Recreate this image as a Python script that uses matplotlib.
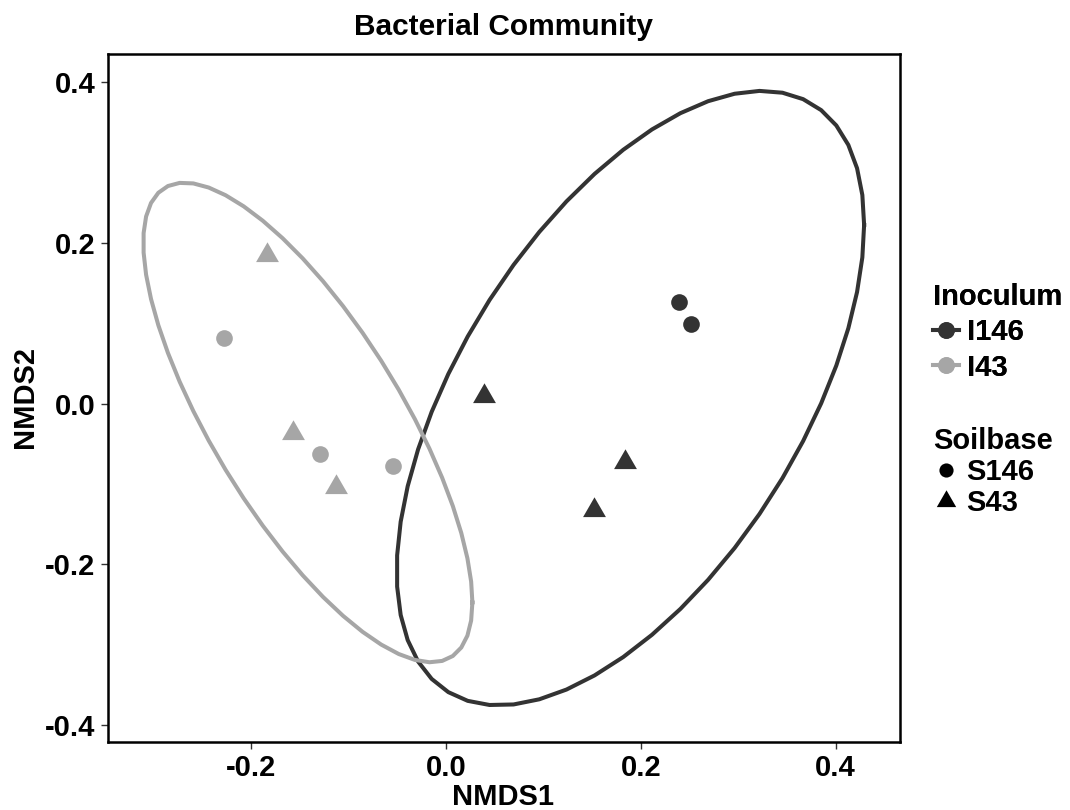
import numpy as np
import matplotlib
matplotlib.use('Agg')
import matplotlib.pyplot as plt
from matplotlib.lines import Line2D

plt.rcParams['font.family'] = ['Liberation Sans', 'DejaVu Sans']
plt.rcParams['font.weight'] = 'bold'

# NMDS scores
inoculum = ['I43', 'I43', 'I43', 'I43', 'I43', 'I43',
            'I146', 'I146', 'I146', 'I146', 'I146']
soilbase = ['S43', 'S146', 'S43', 'S146', 'S43', 'S146',
            'S146', 'S146', 'S43', 'S43', 'S43']
nmds1 = [-0.184, -0.228, -0.157, -0.129, -0.113, -0.054,
         0.239, 0.251, 0.039, 0.184, 0.152]
nmds2 = [0.185, 0.082, -0.037, -0.063, -0.104, -0.078,
         0.126, 0.099, 0.009, -0.073, -0.132]

groups = ['I146', 'I43']
colors = {'I146': '#333333', 'I43': '#a6a6a6'}
shapes = ['S146', 'S43']

# equilateral triangle, like R's pch 17
tri = [(-1, -0.5774), (1, -0.5774), (0, 1.1547), (-1, -0.5774)]
markers = {'S146': 'o', 'S43': tri}
msizes = {'S146': 12, 'S43': 19}


def cov_trob(x, nu=5, maxit=25, tol=0.01):
    ''' port of MASS::cov.trob, what stat_ellipse uses '''
    n, p = x.shape
    loc = x.mean(axis=0)
    w = np.ones(n)
    for it in range(maxit):
        w0 = w
        X = x - loc
        u, d, vt = np.linalg.svd(np.sqrt(w / w.sum())[:, None] * X, full_matrices=False)
        wX = X @ vt.T @ np.diag(1 / d)
        Q = (wX ** 2).sum(axis=1)
        w = (nu + p) / (nu + Q)
        loc = (w[:, None] * x).sum(axis=0) / w.sum()
        if np.all(np.abs(w - w0) < tol):
            break
    cov = (np.sqrt(w)[:, None] * X).T @ (np.sqrt(w)[:, None] * X) / n
    return loc, cov


def ellipse(x, level=0.95, segments=51):
    n = len(x)
    center, shape = cov_trob(x)
    # F quantile with dfn = 2 has a closed form
    dfd = n - 1
    fq = dfd / 2 * ((1 - level) ** (-2 / dfd) - 1)
    radius = np.sqrt(2 * fq)
    ch = np.linalg.cholesky(shape).T
    a = np.linspace(0, 2 * np.pi, segments + 1)
    circ = np.column_stack([np.cos(a), np.sin(a)])
    return center + radius * circ @ ch


fig = plt.figure(figsize=(10.7, 8.1), dpi=100)
ax = fig.add_axes([108 / 1070, 1 - 742 / 810, 792 / 1070, 688 / 810])

x = np.array(nmds1)
y = np.array(nmds2)
inoc = np.array(inoculum)
soil = np.array(soilbase)

for g in groups:
    m = inoc == g
    e = ellipse(np.column_stack([x[m], y[m]]))
    ax.plot(e[:, 0], e[:, 1], color=colors[g], lw=2.9, zorder=2,
            solid_joinstyle='round')
    for s in shapes:
        mm = m & (soil == s)
        ax.plot(x[mm], y[mm], ls='none', marker=markers[s], ms=msizes[s],
                color=colors[g], mec='none', zorder=3)

ax.set_xlim(-0.347, 0.466)
ax.set_ylim(-0.421, 0.435)
ax.set_xticks([-0.2, 0.0, 0.2, 0.4])
ax.set_yticks([-0.4, -0.2, 0.0, 0.2, 0.4])
ax.set_xticklabels(['-0.2', '0.0', '0.2', '0.4'])
ax.set_yticklabels(['-0.4', '-0.2', '0.0', '0.2', '0.4'])
ax.tick_params(labelsize=21, length=5, width=1, color='#333333', pad=4)
for sp in ax.spines.values():
    sp.set_linewidth(1.8)
    sp.set_color('black')

fig.text(503 / 1070, 1 - 27 / 810, 'Bacterial Community', ha='center', va='center',
         fontsize=21.5, fontweight='bold')
fig.text(503 / 1070, 1 - 797 / 810, 'NMDS1', ha='center', va='center',
         fontsize=21, fontweight='bold')
fig.text(25 / 1070, 1 - 397 / 810, 'NMDS2', ha='center', va='center',
         fontsize=21, fontweight='bold', rotation=90)

# legends
h1 = [Line2D([0], [0], color=colors[g], lw=2.9, marker='o', ms=12, mec='none')
      for g in groups]
leg1 = fig.legend(h1, groups, title='Inoculum', loc='upper left',
                  bbox_to_anchor=(933 / 1070, 1 - 283 / 810), frameon=False,
                  fontsize=21, title_fontsize=21, handlelength=0.9,
                  handletextpad=0.25, labelspacing=0.25, alignment='left',
                  borderaxespad=0, borderpad=0)
leg1.get_title().set_fontweight('bold')
fig.add_artist(leg1)

h2 = [Line2D([0], [0], ls='none', marker=markers[s], ms=msizes[s] * 0.85,
             color='black', mec='none') for s in shapes]
leg2 = fig.legend(h2, shapes, title='Soilbase', loc='upper left',
                  bbox_to_anchor=(933 / 1070, 1 - 427 / 810), frameon=False,
                  fontsize=21, title_fontsize=21, handlelength=0.9,
                  handletextpad=0.25, labelspacing=0.1, alignment='left',
                  borderaxespad=0, borderpad=0)
leg2.get_title().set_fontweight('bold')

fig.savefig('out.png', dpi=100)
